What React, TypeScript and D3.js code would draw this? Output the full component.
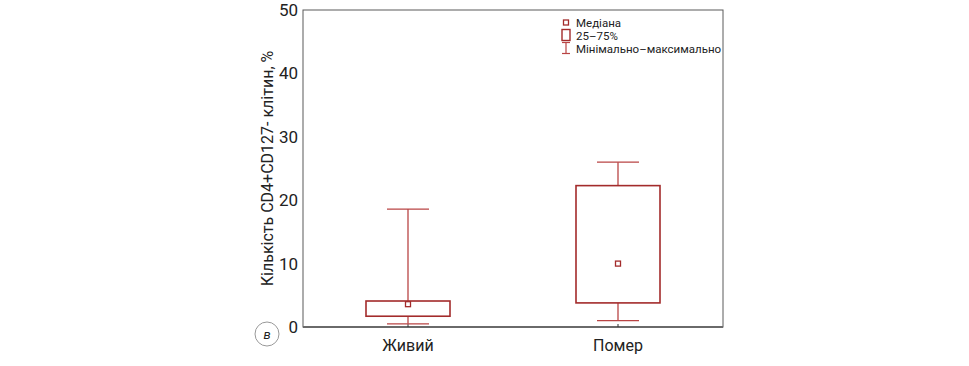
import * as d3 from "d3";
import React, { useEffect, useRef } from "react";

// groups and box statistics (%)
const categories = ["Живий", "Помер"];
const minVals = [0.5, 1.0];
const q1Vals = [1.7, 3.8];
const medianVals = [3.6, 10.0];
const q3Vals = [4.1, 22.3];
const maxVals = [18.6, 26.0];
const yTicks = [0, 10, 20, 30, 40, 50];
const legendLabels = ["Медіана", "25–75%", "Мінімально–максимально"];

const W = 969;
const H = 366;
const BOX = "#a32b2b";
const WHISK = "#b94444";
const FONT = "Roboto, 'Open Sans', sans-serif";

export default function App() {
  const svgRef = useRef<SVGSVGElement>(null);

  useEffect(() => {
    const svg = d3.select(svgRef.current);
    svg.selectAll("*").remove();

    const margin = { top: 10, left: 303, right: 246, bottom: 39 };
    const x = d3
      .scaleBand()
      .domain(categories)
      .range([margin.left, W - margin.right])
      .padding(0);
    const y = d3
      .scaleLinear()
      .domain([0, 50])
      .range([H - margin.bottom, margin.top]);

    const boxW = x.bandwidth() * 0.4;
    const capW = boxW / 2;

    // frame
    svg
      .append("rect")
      .attr("x", margin.left)
      .attr("y", margin.top)
      .attr("width", W - margin.right - margin.left)
      .attr("height", H - margin.bottom - margin.top)
      .attr("fill", "none")
      .attr("stroke", "#5a5a5a")
      .attr("stroke-width", 1);
    svg
      .append("line")
      .attr("x1", margin.left)
      .attr("x2", W - margin.right)
      .attr("y1", y(0))
      .attr("y2", y(0))
      .attr("stroke", "#6a6a6a")
      .attr("stroke-width", 2);

    // y axis labels
    const yAxis = svg
      .append("g")
      .attr("transform", `translate(${margin.left},0)`)
      .call(d3.axisLeft(y).tickValues(yTicks).tickSize(0).tickPadding(5));
    yAxis.select(".domain").remove();
    yAxis
      .selectAll("text")
      .attr("font-family", FONT)
      .attr("font-size", 17)
      .attr("fill", "#222");

    // x axis labels + small inner ticks
    const xAxis = svg
      .append("g")
      .attr("transform", `translate(0,${y(0)})`)
      .call(d3.axisBottom(x).tickSize(-3).tickPadding(10));
    xAxis.select(".domain").remove();
    xAxis.selectAll("line").attr("stroke", "#333");
    xAxis
      .selectAll("text")
      .attr("font-family", FONT)
      .attr("font-size", 16)
      .attr("fill", "#222")
      .attr("dy", "0.9em");

    // y title
    svg
      .append("text")
      .attr("transform", `translate(273,${(margin.top + y(0)) / 2}) rotate(-90)`)
      .attr("text-anchor", "middle")
      .attr("font-family", FONT)
      .attr("font-size", 16)
      .attr("fill", "#222")
      .text("Кількість CD4+CD127- клітин, %");

    // boxes
    categories.forEach((c, i) => {
      const cx = (x(c) as number) + x.bandwidth() / 2;
      const g = svg.append("g");
      g.append("line")
        .attr("x1", cx).attr("x2", cx)
        .attr("y1", y(maxVals[i])).attr("y2", y(q3Vals[i]))
        .attr("stroke", WHISK).attr("stroke-width", 1.3);
      g.append("line")
        .attr("x1", cx).attr("x2", cx)
        .attr("y1", y(q1Vals[i])).attr("y2", y(minVals[i]))
        .attr("stroke", WHISK).attr("stroke-width", 1.3);
      [maxVals[i], minVals[i]].forEach((v) => {
        g.append("line")
          .attr("x1", cx - capW / 2).attr("x2", cx + capW / 2)
          .attr("y1", y(v)).attr("y2", y(v))
          .attr("stroke", WHISK).attr("stroke-width", 1.3);
      });
      g.append("rect")
        .attr("x", cx - boxW / 2)
        .attr("y", y(q3Vals[i]))
        .attr("width", boxW)
        .attr("height", y(q1Vals[i]) - y(q3Vals[i]))
        .attr("fill", "none")
        .attr("stroke", BOX)
        .attr("stroke-width", 1.6);
      g.append("rect")
        .attr("x", cx - 2.5)
        .attr("y", y(medianVals[i]) - 2.5)
        .attr("width", 5)
        .attr("height", 5)
        .attr("fill", "#fff")
        .attr("stroke", BOX)
        .attr("stroke-width", 1.3);
    });

    // legend
    const lx = 566;
    const ly = [22.5, 35.5, 48.5];
    const leg = svg.append("g");
    leg.append("rect")
      .attr("x", lx - 2.5).attr("y", ly[0] - 2.5).attr("width", 5).attr("height", 5)
      .attr("fill", "#fff").attr("stroke", BOX).attr("stroke-width", 1.3);
    leg.append("rect")
      .attr("x", lx - 4).attr("y", ly[1] - 6).attr("width", 8).attr("height", 11)
      .attr("fill", "none").attr("stroke", BOX).attr("stroke-width", 1.4);
    leg.append("line")
      .attr("x1", lx).attr("x2", lx).attr("y1", ly[2] - 6).attr("y2", ly[2] + 5)
      .attr("stroke", WHISK).attr("stroke-width", 1.2);
    [ly[2] - 6, ly[2] + 5].forEach((yy) =>
      leg.append("line")
        .attr("x1", lx - 4).attr("x2", lx + 4).attr("y1", yy).attr("y2", yy)
        .attr("stroke", WHISK).attr("stroke-width", 1.2)
    );
    legendLabels.forEach((t, i) =>
      leg.append("text")
        .attr("x", lx + 10)
        .attr("y", ly[i])
        .attr("dy", "0.36em")
        .attr("font-family", FONT)
        .attr("font-size", 11.5)
        .attr("fill", "#222")
        .text(t)
    );

    // panel mark
    const mark = svg.append("g").attr("transform", "translate(267,334)");
    mark.append("circle").attr("r", 12).attr("fill", "#fff")
      .attr("stroke", "#999").attr("stroke-width", 1);
    mark.append("text")
      .attr("text-anchor", "middle")
      .attr("dy", "0.35em")
      .attr("font-family", FONT)
      .attr("font-style", "italic")
      .attr("font-size", 13)
      .attr("fill", "#222")
      .text("в");
  }, []);

  return (
    <div style={{ position: "absolute", left: 0, top: 0 }}>
      <svg ref={svgRef} width={W} height={H} style={{ display: "block", background: "#fff" }} />
    </div>
  );
}
